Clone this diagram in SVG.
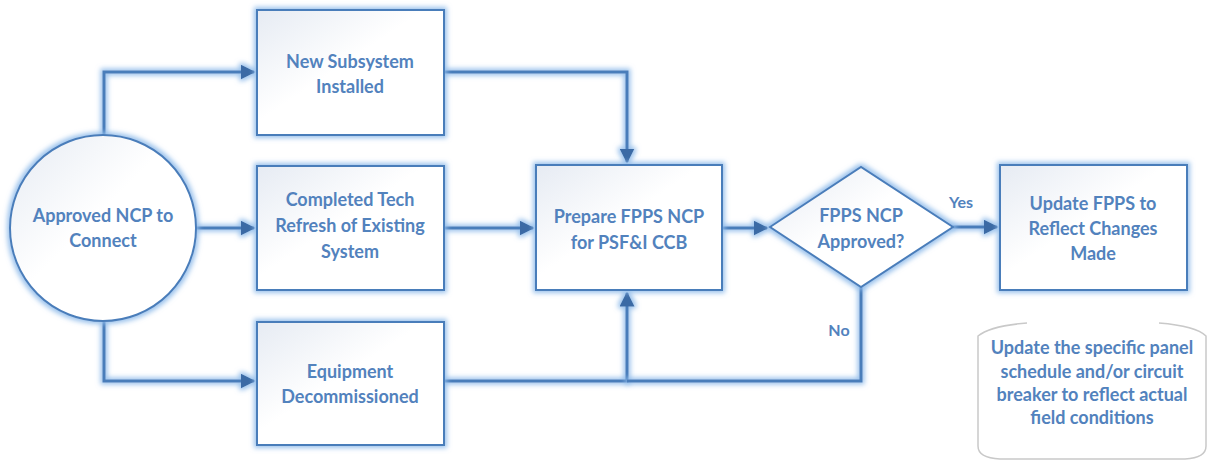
<svg xmlns="http://www.w3.org/2000/svg" width="1209" height="461" viewBox="0 0 1209 461">
<defs>
<filter id="glow" filterUnits="userSpaceOnUse" x="0" y="0" width="1209" height="461">
<feMorphology in="SourceAlpha" operator="dilate" radius="2" result="d"/>
<feGaussianBlur in="d" stdDeviation="2.5" result="b"/>
<feFlood flood-color="#8fbbea" flood-opacity="0.9"/>
<feComposite in2="b" operator="in" result="g"/>
<feMerge><feMergeNode in="g"/><feMergeNode in="SourceGraphic"/></feMerge>
</filter>
<linearGradient id="fill" x1="0" y1="0" x2="1" y2="1">
<stop offset="0" stop-color="#e6ebf3"/>
<stop offset="0.45" stop-color="#ffffff"/>
<stop offset="1" stop-color="#ffffff"/>
</linearGradient>
<marker id="arr" viewBox="0 0 10 10" refX="9" refY="5" markerWidth="5" markerHeight="5" orient="auto" markerUnits="strokeWidth">
<path d="M0,0 L10,5 L0,10 z" fill="#3a6aa5"/>
</marker>
</defs>
<style>
.shape{fill:url(#fill);stroke:#4a7dba;stroke-width:2;filter:url(#glow)}
.line{fill:none;stroke:#4a7dba;stroke-width:3;filter:url(#glow)}
.t{font-family:Lato,"Liberation Sans",sans-serif;font-weight:bold;font-size:18px;fill:#5282bd;text-anchor:middle}
.lbl{font-family:Lato,"Liberation Sans",sans-serif;font-weight:bold;font-size:16px;fill:#5282bd;text-anchor:middle}
</style>
<rect width="1209" height="461" fill="#ffffff"/>

<g id="connectors">
<path class="line" d="M104,135 V72 H254" marker-end="url(#arr)"/>
<path class="line" d="M195,228 H254" marker-end="url(#arr)"/>
<path class="line" d="M104,322 V381 H254" marker-end="url(#arr)"/>
<path class="line" d="M444,72 H627 V162" marker-end="url(#arr)"/>
<path class="line" d="M444,228 H533" marker-end="url(#arr)"/>
<path class="line" d="M444,381 H627 V293" marker-end="url(#arr)"/>
<path class="line" d="M861,287 V381 H627"/>
<path class="line" d="M722,228 H767" marker-end="url(#arr)"/>
<path class="line" d="M953,227 H997" marker-end="url(#arr)"/>
<text class="lbl" x="961" y="208">Yes</text>
<text class="lbl" x="839" y="336">No</text>
</g>

<g id="start">
<circle class="shape" cx="103" cy="228" r="93"/>
<text class="t" x="103" y="222">Approved NCP to</text>
<text class="t" x="103" y="247">Connect</text>
</g>

<g id="new-subsystem">
<rect class="shape" x="257" y="10" width="187" height="125"/>
<text class="t" x="350" y="68">New Subsystem</text>
<text class="t" x="350" y="93">Installed</text>
</g>

<g id="tech-refresh">
<rect class="shape" x="257" y="166" width="187" height="124"/>
<text class="t" x="350" y="206">Completed Tech</text>
<text class="t" x="350" y="232">Refresh of Existing</text>
<text class="t" x="350" y="258">System</text>
</g>

<g id="decommissioned">
<rect class="shape" x="257" y="322" width="187" height="123"/>
<text class="t" x="350" y="378">Equipment</text>
<text class="t" x="350" y="403">Decommissioned</text>
</g>

<g id="prepare">
<rect class="shape" x="536" y="165" width="186" height="125"/>
<text class="t" x="629" y="223">Prepare FPPS NCP</text>
<text class="t" x="629" y="249">for PSF&amp;I CCB</text>
</g>

<g id="decision">
<polygon class="shape" points="770,227 861,167 953,227 861,287"/>
<text class="t" x="861" y="222">FPPS NCP</text>
<text class="t" x="861" y="248">Approved?</text>
</g>

<g id="update">
<rect class="shape" x="1000" y="165" width="187" height="125"/>
<text class="t" x="1093" y="210">Update FPPS to</text>
<text class="t" x="1093" y="235">Reflect Changes</text>
<text class="t" x="1093" y="260">Made</text>
</g>

<g id="note">
<path d="M1027,323 Q990,326 978,336 V446 Q978,458 1000,459 H1185 Q1206,458 1206,446 V336 Q1196,326 1159,323" fill="none" stroke="#c9c9c9" stroke-width="1.5"/>
<text class="t" x="1092" y="354">Update the specific panel</text>
<text class="t" x="1092" y="378">schedule and/or circuit</text>
<text class="t" x="1092" y="401">breaker to reflect actual</text>
<text class="t" x="1092" y="424">field conditions</text>
</g>
</svg>
